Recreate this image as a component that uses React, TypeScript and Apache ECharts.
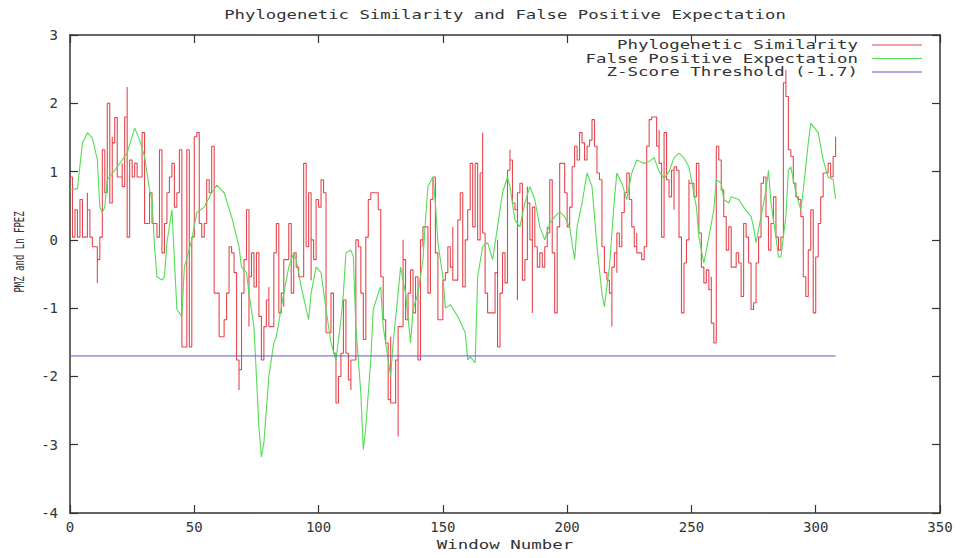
import React, { useEffect, useRef } from "react";
import * as echarts from "echarts";

const chartTitle = "Phylogenetic Similarity and False Positive Expectation";
const seriesNames = ["Phylogenetic Similarity", "False Positive Expectation", "Z-Score Threshold (-1.7)"];
const xAxisName = "Window Number";
const yAxisName = "PMZ and Ln FPEZ";

const redWindows = [
  0, 1, 2, 3, 4, 5, 5, 7, 7, 8, 9, 11, 11, 12, 13, 13, 14, 15, 15, 16, 17, 17, 18, 19, 19, 21, 21, 22, 23, 23,
  24, 25, 26, 27, 29, 30, 31, 32, 33, 34, 35, 36, 37, 37, 38, 39, 40, 41, 42, 43, 44, 45, 45, 47, 48, 48, 49, 50,
  51, 52, 52, 53, 54, 55, 56, 57, 58, 58, 60, 60, 62, 63, 64, 65, 66, 67, 68, 68, 69, 70, 71, 72, 72, 73, 74, 75,
  76, 77, 78, 79, 79, 80, 80, 82, 82, 83, 84, 85, 86, 86, 87, 88, 89, 90, 91, 92, 94, 95, 96, 97, 97, 98, 99, 100,
  101, 101, 102, 103, 103, 104, 105, 106, 107, 107, 108, 109, 110, 111, 112, 113, 113, 115, 115, 116, 117, 118,
  119, 120, 121, 123, 124, 125, 126, 127, 128, 129, 129, 131, 132, 132, 134, 134, 135, 136, 137, 138, 139, 140,
  141, 142, 142, 144, 144, 145, 146, 147, 148, 148, 150, 150,
  151, 152, 153, 154, 154, 156, 156, 157, 158, 158, 159, 160, 161, 161, 162, 163, 164, 164, 165, 166, 166, 167,
  168, 169, 170, 171, 172, 172, 173, 174, 175, 175, 176, 177, 177, 178, 179, 180, 180, 181, 182, 182, 183, 184,
  184, 185, 186, 186, 187, 188, 189, 190, 191, 192, 192, 193, 194, 195, 195, 196, 197, 198, 199, 200, 201, 202,
  202, 203, 204, 205, 206, 207, 208, 209, 210, 211, 212, 213, 214, 214, 215, 216, 217, 218, 218, 219, 220, 220,
  221, 222, 223, 224, 225, 226, 227, 228, 228, 230, 231, 232, 233, 234, 236, 237, 237, 238, 239, 240, 241, 242,
  243, 243, 244, 245, 245, 246, 247, 248, 249, 249, 251, 252, 253, 253, 254, 255, 256, 257, 258, 258, 259, 260,
  260, 261, 262, 263, 264, 265, 266, 266, 268, 269, 270, 271, 272, 273, 274, 275, 276, 277, 278, 278, 279, 280,
  281, 282, 283, 284, 285, 286, 287, 288, 288, 289, 289, 290, 291, 292, 293, 294, 295, 296, 297, 298, 299, 299,
  300, 301, 302, 303, 305, 306, 307, 308,
];
const redValues = [
  0.92, 0.04, 0.44, 0.04, 0.59, 0.34, 0.04, 0.69, 0.44, 0.04, -0.1, -0.63, -0.29, 0.04, 0.29, 1.32, 0.69, 1.07, 2.0,
  0.54, 1.51, 1.42, 1.79, 1.17, 0.92, 1.12, 0.78, 1.8, 2.24, 0.04,
  1.17, 0.92, 1.12, 0.92, 1.57, 0.24, 0.24, 0.69, 0.24, 0.24, 0.04, 1.32, 1.22, -0.19, 0.24, 0.69, 0.92, 1.12, 0.48,
  0.69, 1.32, -0.4, -1.57, 1.32, 1.32, -1.57, 0.04, 1.51,
  1.57, 0.92, 0.24, 0.04, 0.24, 0.88, 0.69, 1.37, -0.04, -0.78, -1.32, -1.42, -1.17, -0.78, -0.1, -0.19, -0.48,
  -1.76, -2.2, -1.9, -0.78, -0.29, 0.44, -1.27, -0.54, -0.19, -0.69, -0.19,
  -1.12, -1.76, -1.27, -1.17, -0.88, -0.69, -1.27, -0.98, -0.19, 0.24, -1.07, -0.78, -0.98, -0.29, -0.29, 0.24,
  -0.78, -0.19, -0.4, -0.54, 1.12, -0.1, 0.69, -0.59, 0.0, -0.29, 0.59, 0.48,
  0.78, 0.88, 0.69, -0.73, -1.36, -1.36, -0.78, -1.66, -2.24, -2.39, -2.0, -1.66, -0.88, -1.66, -2.05, -2.2, -1.76,
  -0.78, 0.0, -0.1, -0.78, -1.46,
  0.04, 0.59, 0.69, 0.69, 0.44, -0.54, -1.17, -1.51, -2.34, -1.42, -2.39, -1.76, -2.88, -1.27, 0.0, -0.29, -1.17,
  -0.78, -0.44, -1.07, -0.54, -1.76,
  0.0, -0.1, 0.19, -0.19, -0.78, 0.59, 0.92, -0.19, -0.29, -1.17, -0.78, -0.59,
  -0.48, -0.1, -0.4, 0.19, -0.59, 0.0, 0.29, 0.69, -0.1, -0.69, 0.0, 0.44, 0.69, 1.12, 0.19, 1.12, 1.12, 0.0, 0.98,
  1.57, 0.1, -0.78,
  -1.07, -1.07, -1.07, -0.48, 0.0, -1.57, -0.78, -0.19, -0.4, -0.63, 1.02, 1.32, 1.17, 0.54, 0.44, -0.88, 0.69,
  0.83, 0.59, -0.59, -0.29, 0.78,
  0.54, 0.0, -1.07, 0.48, -0.1, -0.4, -0.19, -0.4, -0.1, 0.19, 0.1, 0.88, -0.19, -0.78, -1.07, 0.19, 1.12, 1.12,
  0.69, 0.19, 0.48, 0.88,
  1.07, 1.37, 1.17, 1.57, 1.42, 1.17, 1.37, 1.46, 1.76, 1.37, 0.98, 0.88, 0.4, -0.1, -0.48, -0.59, -0.78, -1.27,
  -0.4, -0.19, -0.48, 0.1,
  -0.1, 0.4, 0.69, 0.98, 0.59, 0.19, -0.1, 0.1, -0.19, -0.29, -0.1, 1.37, 1.76, 1.8, 1.37, 1.61, 1.12, 0.04, 1.57,
  0.88, 0.63, 1.02,
  0.44, 1.07, 1.02, 0.63, 0.04, -1.07, -0.34, 0.0, 0.88, 0.83, 0.63, 1.12, 0.83, 0.1, -0.4, -0.63, -0.44, -0.73,
  -0.54, -1.22, -1.51, 1.32,
  1.37, 1.17, 0.73, 0.34, -0.15, 0.19, 0.04, -0.4, -0.19, -0.34, -0.83, 0.24, 0.04, -0.34, -1.02, -0.92, -0.34,
  0.04, 0.54, 0.83, 0.92, 0.34,
  -0.15, 0.24, 0.63, 0.04, -0.15, 0.04, 2.3, 2.49, 2.1, 1.9, 1.32, 1.22, 0.83, 0.63, 0.59, 0.34, -0.54, -0.83,
  -0.15, 0.44, 0.24, -1.07,
  -0.25, 0.24, 0.63, 0.98, 1.12, 0.92, 1.22, 1.51,
];

const greenWindows = [
  0, 3, 5, 7, 9, 11, 12, 13, 14, 15, 18, 21, 23, 26, 28, 30, 32, 33, 34, 35, 37, 38, 39, 41, 42, 43, 45, 46, 49,
  51, 54, 57, 59, 62, 65, 68, 69, 71, 72, 74, 75, 76, 77, 78, 79, 80, 82, 83, 86, 88, 90, 91, 93, 96, 97, 99, 101,
  103, 105, 107, 109, 110, 111, 113, 114, 115, 117, 118, 119, 121, 122, 124, 125, 126, 128, 129, 130, 132, 133,
  135, 137, 138, 140, 142, 143, 144, 146, 147, 148, 150, 151, 153, 156, 159, 160, 161, 163, 164, 166, 168, 170,
  172, 174, 176, 177, 179, 181, 183, 185, 187, 189, 191, 193, 195, 197, 199, 201, 203, 204, 206, 208, 210, 212,
  214, 215, 217, 219, 220, 222, 224, 226, 228, 231, 233, 235, 237, 239, 241, 243, 245, 247, 249, 252, 253, 255,
  257, 259, 260, 262, 263, 265, 266, 269, 271, 274, 275, 276, 278, 280, 281, 282, 284, 285, 286, 288, 289, 290,
  292, 294, 295, 297, 298, 301, 303, 305, 307, 308,
];
const greenValues = [
  0.73, 0.75, 1.42, 1.57, 1.49, 1.17, 0.48, 0.4, 0.48, 0.88, 1.02, 1.17, 1.27, 1.64, 1.46, 1.22, 0.73, 0.59, -0.1,
  -0.54, -0.59, -0.54, -0.04, 0.44, -0.29, -1.02, -1.12, -0.4, 0.0,
  0.4, 0.48, 0.69, 0.8, 0.69, 0.34, -0.1, -0.4, -0.48, -0.78, -1.27, -2.0, -2.74, -3.18, -2.97, -2.49, -2.0, -1.51,
  -1.42, -0.78, -0.4, -0.19, -0.29, -0.69, -1.17, -0.78, -0.4, -0.48,
  -1.02, -1.51, -1.76, -1.17, -0.78, -0.19, -0.15, -0.25, -1.27, -2.24, -3.07, -2.74, -1.76, -1.02, -0.78, -0.69,
  -1.27, -1.76, -2.0, -1.51, -0.78, -0.4,
  -0.78, -1.51, -1.02, -0.78, -0.29, 0.29, 0.78, 0.92, 0.54, -0.04, -0.54, -1.0, -0.95, -1.12, -1.36, -1.76, -1.71,
  -1.8, -0.54, -0.1, -0.04, -0.29,
  0.19, 0.69, 0.92, 0.78, 0.29, 0.19, 0.54, 0.78, 0.59, 0.19, 0.0, 0.24, 0.34, 0.41, 0.34, 0.19, -0.29, 0.19, 0.54,
  0.98, 0.78, -0.1,
  -0.78, -0.98, -0.4, 0.59, 0.98, 0.83, 0.59, 0.98, 1.17, 1.12, 1.15, 1.2, 1.0, 0.9, 1.0, 1.2, 1.27, 1.2, 1.07, 0.48,
  0.04, -0.34,
  0.04, 0.44, 0.88, 0.83, 0.59, 0.54, 0.63, 0.59, 0.48, 0.34, 0.19, -0.04, 0.34, 0.73, 1.02, 0.54, 0.04, -0.25,
  -0.25, 0.34, 1.02, 1.07,
  0.69, 0.44, 0.73, 1.42, 1.71, 1.57, 1.17, 0.92, 0.88, 0.6,
];

const thresholdWindows = [0, 308];
const thresholdValues = [-1.7, -1.7];

const lineColors = ["#e6474f", "#55dc55", "#5a5ad2"];

const pairs = (xs: number[], ys: number[]) => xs.map((x, i) => [x, ys[i]]);

const FONT = "DejaVu Sans Mono";
const TEXT_COLOR = "#333";

export default function App() {
  const ref = useRef<HTMLDivElement>(null);

  useEffect(() => {
    if (!ref.current) return;
    const chart = echarts.init(ref.current, null, { renderer: "svg" });

    const frameAxis = {
      axisLine: { show: true, onZero: false, lineStyle: { color: "#333", width: 1.5 } },
      axisTick: { show: true, inside: true, length: 8, lineStyle: { color: "#333", width: 1.2 } },
      splitLine: { show: false },
    };

    const legendRows = seriesNames
      .map((name, i) => {
        const y = 45 + i * 13.5;
        return [
          {
            type: "text",
            x: 858,
            y,
            scaleX: 1.34,
            style: {
              text: name,
              font: `13px "${FONT}"`,
              fill: TEXT_COLOR,
              textAlign: "right",
              textVerticalAlign: "middle",
            },
          },
          {
            type: "line",
            shape: { x1: 872, y1: y, x2: 922, y2: y },
            style: { stroke: lineColors[i], lineWidth: 1.2 },
          },
        ];
      })
      .flat();

    chart.setOption({
      animation: false,
      backgroundColor: "#ffffff",
      grid: { left: 70, right: 26, top: 35, bottom: 45, containLabel: false },
      xAxis: [
        {
          type: "value",
          position: "bottom",
          min: 0,
          max: 350,
          interval: 50,
          ...frameAxis,
          axisLabel: { color: TEXT_COLOR, fontFamily: FONT, fontSize: 14, margin: 7 },
        },
        {
          type: "value",
          position: "top",
          min: 0,
          max: 350,
          interval: 50,
          ...frameAxis,
          axisLabel: { show: false },
        },
      ],
      yAxis: [
        {
          type: "value",
          position: "left",
          min: -4,
          max: 3,
          interval: 1,
          ...frameAxis,
          axisLabel: { color: TEXT_COLOR, fontFamily: FONT, fontSize: 14, margin: 12 },
        },
        {
          type: "value",
          position: "right",
          min: -4,
          max: 3,
          interval: 1,
          ...frameAxis,
          axisLabel: { show: false },
        },
      ],
      series: [
        {
          name: seriesNames[0],
          type: "line",
          step: "end",
          data: pairs(redWindows, redValues),
          showSymbol: false,
          symbol: "none",
          lineStyle: { color: lineColors[0], width: 1.1 },
          itemStyle: { color: lineColors[0] },
          z: 2,
        },
        {
          name: seriesNames[1],
          type: "line",
          data: pairs(greenWindows, greenValues),
          showSymbol: false,
          symbol: "none",
          lineStyle: { color: lineColors[1], width: 1.1 },
          itemStyle: { color: lineColors[1] },
          z: 3,
        },
        {
          name: seriesNames[2],
          type: "line",
          data: pairs(thresholdWindows, thresholdValues),
          showSymbol: false,
          symbol: "none",
          lineStyle: { color: lineColors[2], width: 1 },
          itemStyle: { color: lineColors[2] },
          z: 4,
        },
      ],
      graphic: [
        {
          type: "text",
          x: 505,
          y: 15,
          scaleX: 1.33,
          style: {
            text: chartTitle,
            font: `13px "${FONT}"`,
            fill: TEXT_COLOR,
            textAlign: "center",
            textVerticalAlign: "middle",
          },
        },
        {
          type: "text",
          x: 505,
          y: 545,
          scaleX: 1.34,
          style: {
            text: xAxisName,
            font: `13px "${FONT}"`,
            fill: TEXT_COLOR,
            textAlign: "center",
            textVerticalAlign: "middle",
          },
        },
        {
          type: "text",
          x: 19,
          y: 252,
          rotation: Math.PI / 2,
          scaleY: 1.5,
          style: {
            text: yAxisName,
            font: `9px "${FONT}"`,
            fill: TEXT_COLOR,
            textAlign: "center",
            textVerticalAlign: "middle",
          },
        },
        ...legendRows,
      ],
    });

    return () => chart.dispose();
  }, []);

  return (
    <div
      ref={ref}
      style={{ position: "fixed", left: 0, top: 0, width: 966, height: 558, background: "#fff" }}
    />
  );
}
